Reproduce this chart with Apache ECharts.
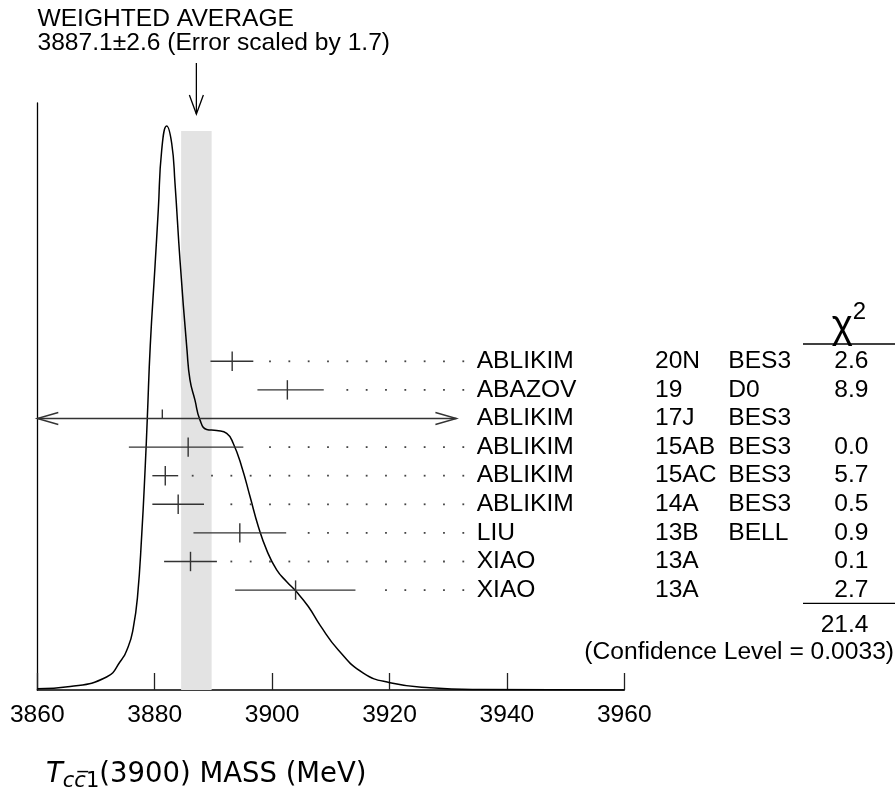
<!DOCTYPE html>
<html><head><meta charset="utf-8">
<script src="https://cdn.jsdelivr.net/npm/echarts@6.0.0/dist/echarts.min.js"></script>
<style>html,body{margin:0;padding:0;background:#fff}#c{width:895px;height:790px}</style>
</head><body><div id="c"></div>
<script>
// ---------------- data ----------------
const titleLine1 = 'WEIGHTED AVERAGE';
const titleLine2 = '3887.1\u00b12.6 (Error scaled by 1.7)';
const avgValue = 3887.1;
const avgError = 2.6;
const xTicks = [3860, 3880, 3900, 3920, 3940, 3960];

const authors = ['ABLIKIM', 'ABAZOV', 'ABLIKIM', 'ABLIKIM', 'ABLIKIM', 'ABLIKIM', 'LIU', 'XIAO', 'XIAO'];
const refs = ['20N', '19', '17J', '15AB', '15AC', '14A', '13B', '13A', '13A'];
const experiments = ['BES3', 'D0', 'BES3', 'BES3', 'BES3', 'BES3', 'BELL', '', ''];
const chi2 = ['2.6', '8.9', '', '0.0', '5.7', '0.5', '0.9', '0.1', '2.7'];
const chi2Total = '21.4';
const confidenceText = '(Confidence Level = 0.0033)';

const masses = [3893.2, 3902.6, 3881.3, 3885.7, 3881.8, 3884.0, 3894.5, 3886.1, 3904.0];
const errLow = [3.7, 5.1, 40, 10.1, 2.2, 4.4, 7.9, 4.5, 10.3];
const errHigh = [3.6, 6.2, 60, 9.4, 2.2, 4.4, 7.9, 4.5, 10.2];

const curveMass = [3860.0, 3865.6, 3871.8, 3874.1, 3875.5, 3876.35, 3877.07, 3877.79, 3878.4, 3878.74, 3879.25,
  3880.05, 3880.61, 3881.19, 3882.04, 3882.9, 3883.46, 3884.31, 3885.5, 3886.01, 3886.86, 3887.71, 3888.86,
  3890.56, 3892.27, 3893.39, 3894.82, 3896.24, 3897.65, 3899.08, 3900.78, 3902.49, 3904.16, 3906.17,
  3908.16, 3911.28, 3915.54, 3920.09, 3926.9, 3935.42, 3960.0];
const curveDensity = [0.002, 0.006, 0.023, 0.050, 0.077, 0.110, 0.165, 0.275, 0.399, 0.482, 0.612,
  0.751, 0.851, 0.957, 1.000, 0.969, 0.898, 0.762, 0.603, 0.550, 0.514, 0.479, 0.462,
  0.460, 0.455, 0.437, 0.396, 0.343, 0.290, 0.248, 0.213, 0.192, 0.174, 0.148,
  0.115, 0.071, 0.030, 0.013, 0.004, 0.001, 0.000];

// ---------------- layout constants ----------------
const FONT = '"Liberation Sans", Arial, Helvetica, sans-serif';
const FS = 24.6;
const X_MIN = 3860, X_MAX = 3960;
const IDEO_MAX = 3931.4;        // right clip of error bars
const DOT_RIGHT = 463.3, DOT_STEP = 19.33, DOT_GAP = 12.5;
const COL_AUTHOR = 476.7, COL_REF = 655, COL_EXP = 728.3, COL_CHI = 868.5;
const INK = '#333';

const chart = echarts.init(document.getElementById('c'), null, {renderer: 'canvas'});

function renderBar(params, api) {
  const i = params.dataIndex;
  const m = api.value(0), row = api.value(1);
  const lo = m - api.value(2), hi = m + api.value(3);
  const c = api.coord([m, row]);
  const y = c[1], xc = c[0];
  const leftOver = lo < X_MIN, rightOver = hi > IDEO_MAX;
  const xl = api.coord([Math.max(lo, X_MIN), row])[0];
  const xr = api.coord([Math.min(hi, IDEO_MAX), row])[0];
  const ch = [];
  ch.push({type: 'line', shape: {x1: xl, y1: y, x2: xr, y2: y}, style: {stroke: INK, lineWidth: 1.4}});
  if (leftOver || rightOver) {
    ch.push({type: 'line', shape: {x1: xc, y1: y - 9, x2: xc, y2: y}, style: {stroke: INK, lineWidth: 1.4}});
  } else {
    ch.push({type: 'line', shape: {x1: xc, y1: y - 9.7, x2: xc, y2: y + 9.7}, style: {stroke: INK, lineWidth: 1.4}});
  }
  if (leftOver) {
    ch.push({type: 'polyline', shape: {points: [[xl + 21, y - 6], [xl, y], [xl + 21, y + 6]]}, style: {stroke: INK, fill: null, lineWidth: 1.4}});
  }
  if (rightOver) {
    ch.push({type: 'polyline', shape: {points: [[xr - 21, y - 6], [xr, y], [xr - 21, y + 6]]}, style: {stroke: INK, fill: null, lineWidth: 1.4}});
  } else {
    for (let x = DOT_RIGHT; x >= xr + DOT_GAP; x -= DOT_STEP) {
      ch.push({type: 'rect', shape: {x: x - 0.9, y: y - 0.9, width: 1.8, height: 1.8}, style: {fill: '#444'}});
    }
  }
  const txt = (s, x, align) => ({type: 'text', x: x, y: y, style: {text: s, font: FS + 'px ' + FONT, fill: '#000', align: align, verticalAlign: 'middle'}});
  ch.push(txt(authors[i], COL_AUTHOR, 'left'));
  ch.push(txt(refs[i], COL_REF, 'left'));
  if (experiments[i]) ch.push(txt(experiments[i], COL_EXP, 'left'));
  if (chi2[i]) ch.push(txt(chi2[i], COL_CHI, 'right'));
  return {type: 'group', children: ch};
}

const option = {
  animation: false,
  backgroundColor: '#fff',
  grid: {left: 37.3, top: 103, width: 587, height: 587, containLabel: false},
  xAxis: {
    type: 'value', min: X_MIN, max: X_MAX, interval: 20,
    axisLine: {show: true, lineStyle: {color: '#000', width: 1.5}},
    axisTick: {show: true, inside: true, length: 17, lineStyle: {color: '#222', width: 1.3}},
    axisLabel: {show: true, margin: 13, fontSize: FS, fontFamily: FONT, color: '#000',
      formatter: v => xTicks.includes(v) ? String(v) : ''},
    splitLine: {show: false}
  },
  yAxis: [
    {type: 'value', min: 0, max: 1.0408, axisLine: {show: true, onZero: false, lineStyle: {color: '#000', width: 1.3}},
      axisTick: {show: false}, axisLabel: {show: false}, splitLine: {show: false}},
    {type: 'value', min: -9.031, max: 11.493, inverse: true, show: false, splitLine: {show: false}}
  ],
  series: [
    {
      type: 'line', xAxisIndex: 0, yAxisIndex: 0,
      data: curveMass.map((m, k) => [m, curveDensity[k]]),
      smooth: 0.5, showSymbol: false, symbol: 'none',
      lineStyle: {color: '#000', width: 1.5}, z: 3,
      markArea: {
        silent: true,
        itemStyle: {color: '#e3e3e3'},
        data: [[{xAxis: avgValue - avgError, yAxis: 0}, {xAxis: avgValue + avgError, yAxis: 0.991}]]
      }
    },
    {
      type: 'custom', xAxisIndex: 0, yAxisIndex: 1, clip: false, z: 4,
      data: masses.map((m, i) => [m, i, errLow[i], errHigh[i]]),
      renderItem: renderBar
    }
  ]
};
chart.setOption(option);

const xAvg = chart.convertToPixel({xAxisIndex: 0}, avgValue);
const T = (s, x, y, size, align) => ({type: 'text', x: x, y: y,
  style: {text: s, font: size + 'px ' + FONT, fill: '#000', align: align || 'left', verticalAlign: 'middle'}});
chart.setOption({
  graphic: [
    T(titleLine1, 37.5, 19, FS),
    T(titleLine2, 37.5, 43, FS),
    {type: 'line', shape: {x1: xAvg, y1: 63, x2: xAvg, y2: 114}, style: {stroke: '#000', lineWidth: 1.3}},
    {type: 'polyline', shape: {points: [[xAvg - 7, 95], [xAvg, 114], [xAvg + 7, 95]]}, style: {stroke: '#000', fill: null, lineWidth: 1.3}},
    {type: 'text', x: 849, y: 327, style: {text: '{c|\u03c7}{s|2}', align: 'center', verticalAlign: 'middle',
      rich: {c: {fontFamily: FONT, fontSize: 40, fill: '#000'}, s: {fontFamily: FONT, fontSize: 24, fill: '#000', padding: [0, 0, 30, 0]}}}},
    {type: 'line', shape: {x1: 803, y1: 344, x2: 895, y2: 344}, style: {stroke: '#000', lineWidth: 1.3}},
    {type: 'line', shape: {x1: 803, y1: 603.3, x2: 895, y2: 603.3}, style: {stroke: '#000', lineWidth: 1.3}},
    T(chi2Total, COL_CHI, 625, FS, 'right'),
    T(confidenceText, 894, 652, FS, 'right'),
    {type: 'text', x: 46, y: 775, style: {
      text: '{t|T}{s|cc\u0305}{n|1}{m|(3900) MASS (MeV)}', verticalAlign: 'middle', align: 'left',
      rich: {
        t: {fontFamily: 'DejaVu Sans', fontStyle: 'italic', fontSize: 27.5, fill: '#000'},
        s: {fontFamily: 'DejaVu Sans', fontStyle: 'italic', fontSize: 21, fill: '#000', padding: [13, 0, 0, 0]},
        n: {fontFamily: 'DejaVu Sans', fontSize: 21, fill: '#000', padding: [13, 0, 0, 0]},
        m: {fontFamily: 'DejaVu Sans', fontSize: 27.5, fill: '#000'}
      }}}
  ]
});
</script>
</body></html>
